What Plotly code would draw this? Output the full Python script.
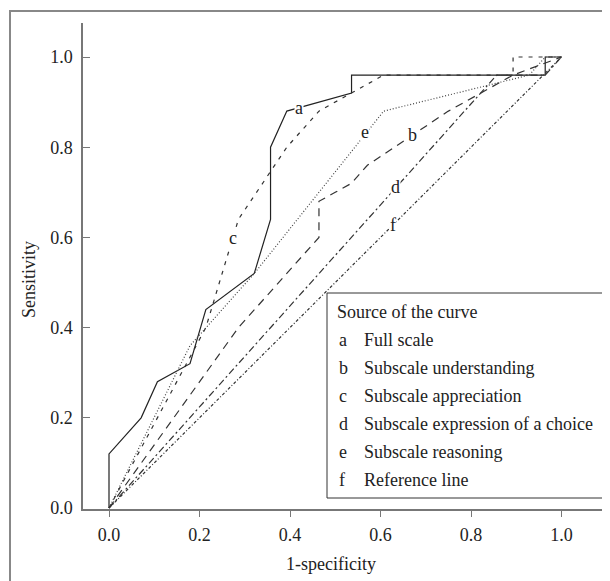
import plotly.graph_objects as go

# ---- data ----
a_x = [0, 0, 0.071, 0.107, 0.179, 0.214, 0.321, 0.357, 0.357, 0.393, 0.536, 0.536, 0.964, 0.964, 1.0]
a_y = [0, 0.12, 0.20, 0.28, 0.32, 0.44, 0.52, 0.64, 0.80, 0.88, 0.92, 0.96, 0.96, 1.0, 1.0]

b_x = [0, 0.286, 0.464, 0.464, 0.5, 0.536, 0.571, 0.75, 0.893, 1.0]
b_y = [0, 0.40, 0.60, 0.68, 0.70, 0.72, 0.76, 0.88, 0.96, 1.0]

c_x = [0, 0.107, 0.214, 0.25, 0.286, 0.393, 0.464, 0.607, 0.893, 0.893, 1.0]
c_y = [0, 0.20, 0.40, 0.52, 0.64, 0.80, 0.88, 0.96, 0.96, 1.0, 1.0]

d_x = [0, 0.857, 0.964, 1.0]
d_y = [0, 0.96, 0.96, 1.0]

e_x = [0, 0.179, 0.321, 0.607, 0.929, 0.964, 1.0]
e_y = [0, 0.36, 0.52, 0.88, 0.96, 1.0, 1.0]

f_x = [0, 1.0]
f_y = [0, 1.0]

curve_letters = ["a", "b", "c", "d", "e", "f"]
curve_names = ["Full scale", "Subscale understanding", "Subscale appreciation",
               "Subscale expression of a choice", "Subscale reasoning", "Reference line"]
label_pos_x = [0.42, 0.67, 0.274, 0.634, 0.566, 0.628]
label_pos_y = [0.887, 0.827, 0.599, 0.712, 0.834, 0.627]

x_ticks = [0.0, 0.2, 0.4, 0.6, 0.8, 1.0]
y_ticks = [0.0, 0.2, 0.4, 0.6, 0.8, 1.0]

FONT = "Liberation Serif"

series = [
    (a_x, a_y, "solid", "#222222"),
    (b_x, b_y, "8px,6px", "#333333"),
    (c_x, c_y, "4px,6px", "#333333"),
    (d_x, d_y, "7px,3px,2px,3px", "#333333"),
    (e_x, e_y, "1px,2px", "#444444"),
    (f_x, f_y, "3px,2px,1px,2px", "#333333"),
]

fig = go.Figure()
for (xs, ys, dash, col), name in zip(series, curve_names):
    fig.add_trace(go.Scatter(x=xs, y=ys, mode="lines", name=name,
                             line=dict(color=col, width=1.2, dash=dash),
                             showlegend=False))

# curve labels
for lx, ly, lt in zip(label_pos_x, label_pos_y, curve_letters):
    fig.add_annotation(x=lx, y=ly, text=lt, showarrow=False, bgcolor="white",
                       font=dict(family=FONT, size=18, color="#222"),
                       borderpad=0)

OFF = 8  # page body margin
W, H = 602, 573
L, R, T, B = 83 - OFF, 5, 23 - OFF, 72
pw, ph = W - L - R, H - T - B


def px_x(p):
    return (p - OFF - L) / pw


def px_y(p):
    return (H - B - (p - OFF)) / ph


# outer frame
fig.add_shape(type="rect", xref="paper", yref="paper",
              x0=px_x(10), x1=px_x(605), y0=px_y(11), y1=px_y(600),
              line=dict(color="#888", width=2), layer="below")

# legend box
fig.add_shape(type="rect", xref="paper", yref="paper",
              x0=px_x(327), x1=px_x(604), y0=px_y(498), y1=px_y(293),
              line=dict(color="#333", width=1), fillcolor="white", layer="above")
fig.add_annotation(xref="paper", yref="paper", x=px_x(335), y=px_y(312),
                   text="Source of the curve", showarrow=False, xanchor="left",
                   yanchor="middle", font=dict(family=FONT, size=18, color="#222"))
for i, (lt, nm) in enumerate(zip(curve_letters, curve_names)):
    yy = 340 + 28 * i
    fig.add_annotation(xref="paper", yref="paper", x=px_x(337), y=px_y(yy),
                       text=lt, showarrow=False, xanchor="left", yanchor="middle",
                       font=dict(family=FONT, size=18, color="#222"))
    fig.add_annotation(xref="paper", yref="paper", x=px_x(362), y=px_y(yy),
                       text=nm, showarrow=False, xanchor="left", yanchor="middle",
                       font=dict(family=FONT, size=18, color="#222"))

# axis titles
fig.add_annotation(xref="paper", yref="paper", x=px_x(331), y=px_y(564),
                   text="1-specificity", showarrow=False,
                   xanchor="center", yanchor="middle",
                   font=dict(family=FONT, size=18, color="#222"))
fig.add_annotation(xref="paper", yref="paper", x=px_x(29), y=px_y(280),
                   text="Sensitivity", showarrow=False, textangle=-90,
                   xanchor="center", yanchor="middle",
                   font=dict(family=FONT, size=18, color="#222"))

x0 = (83 - 109) / 452.5
x1 = (605 - 109) / 452.5
y1 = (508 - 23) / 451
y0 = (508 - 509) / 451

fig.update_xaxes(range=[x0, x1], tickvals=x_ticks, ticktext=[f"{v:.1f}" for v in x_ticks],
                 showgrid=False, zeroline=False, showline=True, linecolor="#777",
                 linewidth=1.5, ticks="outside", ticklen=6, tickcolor="#777",
                 ticklabelstandoff=3,
                 tickfont=dict(family=FONT, size=18, color="#222"))
fig.update_yaxes(range=[y0, y1], tickvals=y_ticks, ticktext=[f"{v:.1f}" for v in y_ticks],
                 showgrid=False, zeroline=False, showline=True, linecolor="#777",
                 linewidth=1.5, ticks="inside", ticklen=7, tickcolor="#777",
                 ticklabelstandoff=5,
                 tickfont=dict(family=FONT, size=18, color="#222"))

fig.update_layout(width=W, height=H, margin=dict(l=L, r=R, t=T, b=B),
                  plot_bgcolor="white", paper_bgcolor="white")

fig.write_html("out.html")
